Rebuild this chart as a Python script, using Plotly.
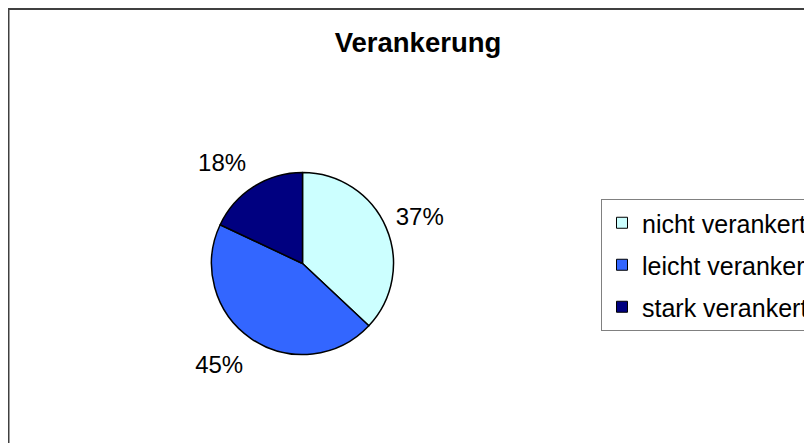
import plotly.graph_objects as go

title = "Verankerung"
labels = ["nicht verankert", "leicht verankert", "stark verankert"]
values = [37, 45, 18]
colors = ["#CCFFFF", "#3366FF", "#000080"]

W, H = 812, 443
FONT = "Liberation Sans, Arial, sans-serif"


def dom(cx, cy, r):
    return dict(x=[(cx - r) / W, (cx + r) / W], y=[1 - (cy + r) / H, 1 - (cy - r) / H])


fig = go.Figure()

# visible pie (figure pixel centre / radius)
fig.add_trace(go.Pie(
    labels=labels, values=values, sort=False, direction="clockwise", rotation=0,
    marker=dict(colors=colors, line=dict(color="black", width=1.5)),
    textinfo="none", showlegend=False, hoverinfo="label+percent",
    domain=dom(294.5, 255.5, 91),
))

# percentage labels, placed outside the pie on slightly larger label rings
label_rings = [
    (dom(297.5, 246.5, 91), ["outside", "none", "none"]),
    (dom(303.5, 256.2, 109.5), ["none", "outside", "outside"]),
]
for d, pos in label_rings:
    fig.add_trace(go.Pie(
        labels=labels, values=values, sort=False, direction="clockwise", rotation=0,
        marker=dict(colors=["rgba(0,0,0,0)"] * len(values), line=dict(width=0)),
        textposition=pos, texttemplate="%{percent}",
        textfont=dict(family=FONT, size=24, color="black"),
        showlegend=False, hoverinfo="skip", domain=d,
    ))

# legend entries
for lab, col in zip(labels, colors):
    fig.add_trace(go.Scatter(
        x=[None], y=[None], mode="markers", name=lab, legendgroup=lab,
        marker=dict(symbol="square", size=11, color=col, line=dict(color="black", width=1)),
    ))

fig.update_layout(
    width=W, height=H,
    margin=dict(l=0, r=0, t=0, b=0, autoexpand=False),
    paper_bgcolor="white", plot_bgcolor="white",
    font=dict(family=FONT, color="black"),
    title=dict(text="<b>%s</b>" % title, x=410 / W, xanchor="center", xref="paper",
               y=1 - 34 / H, yanchor="middle", yref="container",
               font=dict(family=FONT, size=27.5, color="black")),
    xaxis=dict(visible=False), yaxis=dict(visible=False),
    legend=dict(x=593 / W, xanchor="left", y=1 - 191 / H, yanchor="top",
                bordercolor="#808080", borderwidth=1, bgcolor="white",
                font=dict(family=FONT, size=25, color="black"),
                tracegroupgap=6.5, traceorder="grouped", itemclick=False),
    shapes=[dict(type="rect", xref="paper", yref="paper",
                 x0=0.5 / W, x1=1.05, y0=-0.05, y1=1 - 1 / H,
                 line=dict(color="#404040", width=2), fillcolor="rgba(0,0,0,0)")],
)

fig.write_html("out.html")
